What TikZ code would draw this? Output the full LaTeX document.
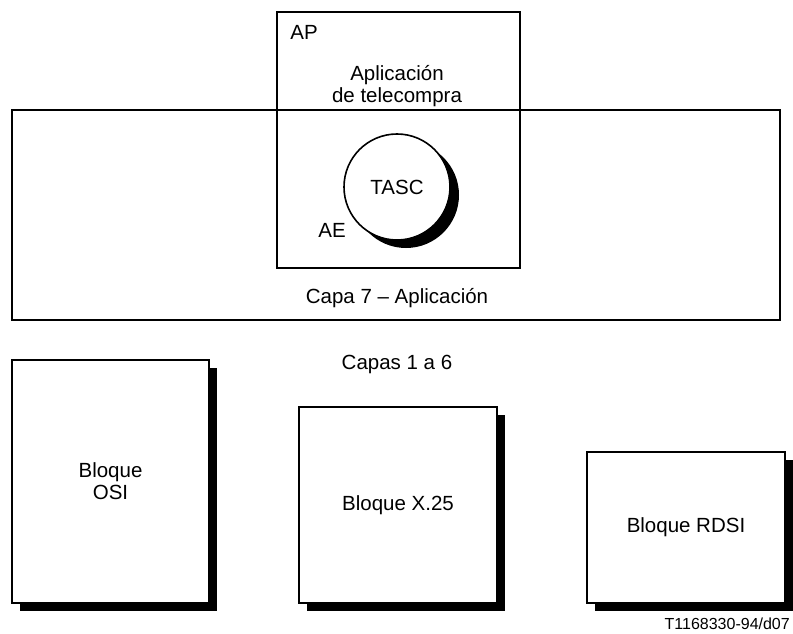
\documentclass[tikz,border=0pt]{standalone}
\usepackage{fontspec}
\setmainfont{Liberation Sans}
\usetikzlibrary{shadows}
\begin{document}
\begin{tikzpicture}[x=1pt,y=-1pt,
  frame/.style={draw, line width=1.6pt, inner sep=0pt},
  blk/.style={frame, fill=white, align=center, font=\fontsize{20.5}{22}\selectfont,
    drop shadow={shadow xshift=8pt, shadow yshift=-8pt, fill=black, opacity=1}},
  lbl/.style={font=\fontsize{20.5}{22}\selectfont, align=center, inner sep=0pt}]
\useasboundingbox (0,0) rectangle (793,634);
% layer 7 and AP
\node[frame, minimum width=768pt, minimum height=210pt] (L7) at (396,215) {};
\node[frame, minimum width=243pt, minimum height=256pt] (AP) at (398.5,140) {};
\node[lbl] (aplbl) at (304,32) {AP};
\node[lbl] (app) at (397,86) {Aplicación\\de telecompra};
\node[circle, draw, fill=white, line width=1.6pt, minimum size=106pt, inner sep=0pt,
  font=\fontsize{20.5}{22}\selectfont,
  drop shadow={shadow xshift=9pt, shadow yshift=-8pt, fill=black, opacity=1}] (TASC) at (397,187) {TASC};
\node[lbl] (AE) at (332,230) {AE};
\node[lbl] (capa7) at (397,298) {Capa 7 – Aplicación};
\node[lbl] (capas) at (397,364) {Capas 1 a 6};
% blocks
\node[blk, minimum width=197pt, minimum height=243pt] (OSI) at (110.5,481.5) {Bloque\\OSI};
\node[blk, minimum width=198pt, minimum height=196pt] (X25) at (398,505) {Bloque X.25};
\node[blk, minimum width=198pt, minimum height=151pt] (RDSI) at (686,527.5) {Bloque RDSI};
\node[anchor=east, inner sep=0pt, font=\fontsize{16}{18}\selectfont] (ref) at (790,624) {T1168330-94/d07};
\end{tikzpicture}
\end{document}
